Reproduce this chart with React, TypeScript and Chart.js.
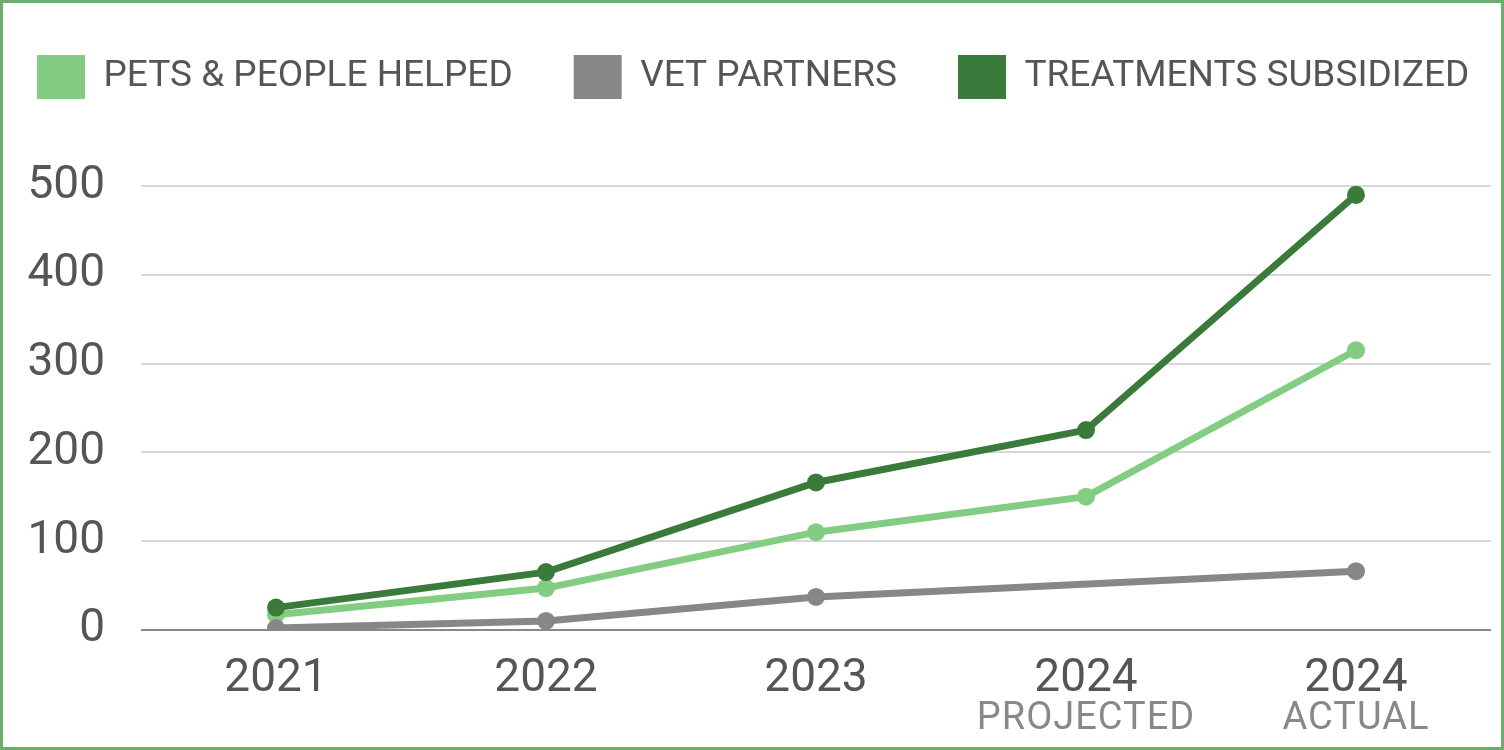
import React, { useEffect, useRef } from "react";
import { Chart, registerables } from "chart.js";

Chart.register(...registerables);

const years = ["2021", "2022", "2023", "2024", "2024"];
const subLabels = ["", "", "", "PROJECTED", "ACTUAL"];
const petsPeopleHelped = [17, 47, 110, 150, 315];
const vetPartners = [2, 10, 37, null, 66];
const treatmentsSubsidized = [25, 65, 166, 225, 490];
const yTicks = [0, 100, 200, 300, 400, 500];

const LIGHT = "#83cd83";
const GRAY = "#878787";
const DARK = "#3a7a3a";
const FONT = "Roboto, 'Noto Sans', sans-serif";
const LEGEND_GAP = 61;

export default function App() {
  const ref = useRef<HTMLCanvasElement | null>(null);

  useEffect(() => {
    document.body.style.margin = "0";
    const canvas = ref.current!;
    const legendSpace = {
      id: "legendSpace",
      beforeInit(chart: any) {
        const lg = chart.legend;
        if (!lg) return;
        const orig = lg.fit;
        lg.fit = function () {
          const mw = this.maxWidth;
          this.maxWidth = 100000;
          orig.call(this);
          this.maxWidth = mw;
          this.width = Math.min(this.width, mw);
          this.height = 183;
        };
      },
      afterLayout(chart: any) {
        const lg = chart.legend;
        if (!lg) return;
        lg.left = 34 - LEGEND_GAP;
        lg.right = 100000;
        lg.top = 52 - LEGEND_GAP;
      },
    };
    const subLabelPlugin = {
      id: "subLabels",
      afterDraw(chart: any) {
        const ctx = chart.ctx;
        const xs = chart.scales.x;
        ctx.save();
        ctx.font = `38px ${FONT}`;
        ctx.fillStyle = "#888888";
        ctx.textAlign = "center";
        ctx.textBaseline = "middle";
        try { (ctx as any).letterSpacing = "1px"; } catch (e) {}
        subLabels.forEach((s, i) => {
          if (!s) return;
          ctx.fillText(s, xs.getPixelForTick(i), 716);
        });
        ctx.restore();
      },
    };
    const mk = (label: string, data: any[], color: string, order: number, extra: any = {}) => ({
      label,
      data,
      borderColor: color,
      backgroundColor: color,
      pointBackgroundColor: color,
      pointBorderColor: color,
      borderWidth: 7,
      pointRadius: 9,
      pointBorderWidth: 0,
      order,
      ...extra,
    });
    const chart = new Chart(canvas, {
      type: "line",
      data: {
        labels: years,
        datasets: [
          mk("PETS & PEOPLE HELPED", petsPeopleHelped, LIGHT, 2),
          mk("VET PARTNERS", vetPartners, GRAY, 1, { spanGaps: true }),
          mk("TREATMENTS SUBSIDIZED", treatmentsSubsidized, DARK, 0),
        ],
      },
      options: {
        animation: false,
        responsive: false,
        maintainAspectRatio: false,
        layout: { padding: { top: 0, left: 0, right: 10, bottom: 18 } },
        plugins: {
          tooltip: { enabled: false },
          legend: {
            position: "top",
            align: "start",
            labels: {
              boxWidth: 48,
              boxHeight: 44,
              padding: LEGEND_GAP,
              color: "#555555",
              font: { family: FONT, size: 37 },
              sort: (a: any, b: any) => a.datasetIndex - b.datasetIndex,
              generateLabels: (c: any) =>
                (Chart as any).defaults.plugins.legend.labels
                  .generateLabels(c)
                  .map((l: any) => ({ ...l, lineWidth: 0 })),
            },
          },
        },
        scales: {
          x: {
            offset: true,
            grid: { display: false, drawTicks: false },
            border: { display: false },
            ticks: {
              color: "#555555",
              font: { family: FONT, size: 46 },
              padding: 22,
              maxRotation: 0,
              autoSkip: false,
            },
          },
          y: {
            min: 0,
            max: 500,
            afterFit(s: any) {
              s.width = 138;
            },
            afterBuildTicks(s: any) {
              s.ticks = yTicks.map((v) => ({ value: v }));
            },
            grid: {
              drawTicks: false,
              color: (c: any) => (c.tick && c.tick.value === 0 ? "#888888" : "#d8d8d8"),
              lineWidth: 2,
            },
            border: { display: false },
            ticks: {
              color: "#555555",
              font: { family: FONT, size: 46 },
              padding: 36,
            },
          },
        },
      },
      plugins: [legendSpace, subLabelPlugin],
    } as any);
    return () => chart.destroy();
  }, []);

  return (
    <div
      style={{
        position: "fixed",
        left: 0,
        top: 0,
        width: 1504,
        height: 750,
        boxSizing: "border-box",
        border: "3px solid #6aaf6c",
        background: "#ffffff",
        overflow: "hidden",
      }}
    >
      <canvas
        ref={ref}
        width={1498}
        height={744}
        style={{ position: "absolute", left: 0, top: 0, width: 1498, height: 744 }}
      />
    </div>
  );
}
